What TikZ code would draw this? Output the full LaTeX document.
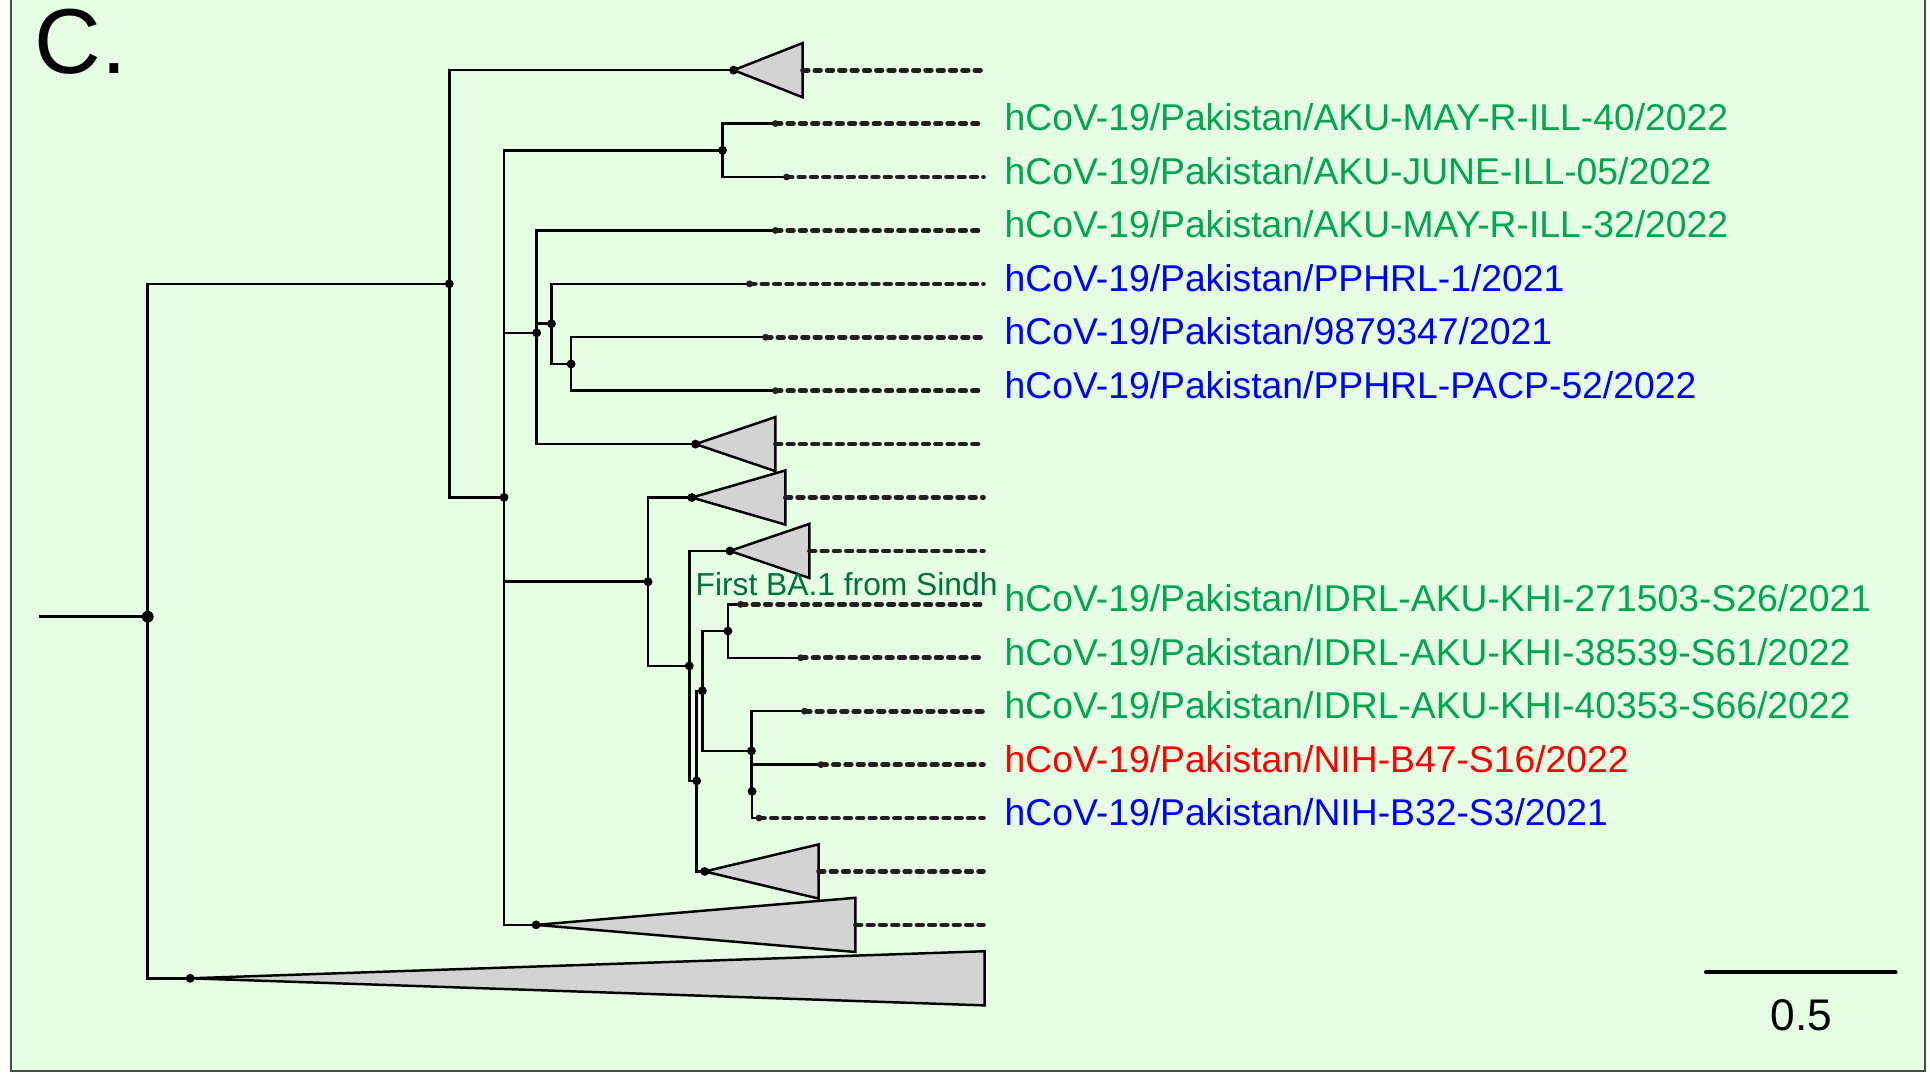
\documentclass[tikz,border=0pt]{standalone}
\usepackage{fontspec}
\setmainfont{Liberation Sans}
\definecolor{bggreen}{RGB}{229,254,228}
\definecolor{framegray}{RGB}{70,80,70}
\definecolor{cladegray}{RGB}{211,211,211}
\definecolor{tipgray}{RGB}{35,31,32}
\definecolor{labgreen}{RGB}{0,166,81}
\definecolor{labblue}{RGB}{0,0,255}
\definecolor{labred}{RGB}{255,0,0}
\definecolor{notegreen}{RGB}{0,112,60}
\tikzset{
	branch/.style={line width=2pt},
	tipline/.style={line width=3.8pt, dash pattern=on 4.6pt off 5.4pt, line cap=round, tipgray},
	clade/.style={draw=black, fill=cladegray, line width=2pt},
	taxon/.style={anchor=base west, inner sep=0pt, yshift=-6pt, font=\fontsize{30.3}{36}\selectfont},
}
\begin{document}
\begin{tikzpicture}[x=1pt,y=-1pt]
	\useasboundingbox (0,0) rectangle (1568,873);
	\fill[white] (0,0) rectangle (1568,873);
	\fill[bggreen] (9,-5) rectangle (1564,870);
	\draw[framegray, line width=1.6pt] (9,-5) -- (9,870) -- (1564,870) -- (1564,-5);
	\node[anchor=base west, inner sep=0pt, font=\fontsize{75}{80}\selectfont] (panel) at (28,60) {C.};
	% internal nodes
	\coordinate (stub) at (32,501);
	\coordinate (root) at (120,501);
	\coordinate (nA) at (365,230.6);
	\coordinate (nB) at (409.5,404.1);
	\coordinate (nC) at (587,122.1);
	\coordinate (nD) at (436,270.4);
	\coordinate (nF) at (448,263);
	\coordinate (nG) at (464,295.7);
	\coordinate (nE) at (526.5,472.6);
	\coordinate (nH) at (560,541);
	\coordinate (nI) at (566,634.4);
	\coordinate (nJ) at (570.6,561.2);
	\coordinate (nK) at (591.4,512.7);
	\coordinate (nL) at (610.5,610);
	\coordinate (nM) at (611,642.9);
	% collapsed clades: apex
	\coordinate (T0) at (596,57);
	\coordinate (T7) at (565,360.8);
	\coordinate (T8) at (562,404.2);
	\coordinate (T9) at (593,447.6);
	\coordinate (T15) at (572.5,708);
	\coordinate (T16) at (435.5,751.4);
	\coordinate (T17) at (154.5,794.8);
	% tips
	\coordinate (t0) at (652,57);
	\coordinate (t1) at (630,100.4);
	\coordinate (t2) at (639,143.8);
	\coordinate (t3) at (630,187.2);
	\coordinate (t4) at (609,230.6);
	\coordinate (t5) at (622,274);
	\coordinate (t6) at (630,317.4);
	\coordinate (t7) at (630,360.8);
	\coordinate (t8) at (638,404.2);
	\coordinate (t9) at (657.6,447.6);
	\coordinate (t10) at (601.7,491);
	\coordinate (t11) at (650.5,534.4);
	\coordinate (t12) at (653.6,577.8);
	\coordinate (t13) at (667,621.2);
	\coordinate (t14) at (616.6,664.6);
	\coordinate (t15) at (665,708);
	\coordinate (t16) at (695,751.4);
	\coordinate (t17) at (800,794.8);
	\coordinate (tipend) at (799,0);
	\coordinate (labx) at (816,0);
	% branches
	\draw[branch] (stub) -- (root);
	\foreach \p/\c in {root/nA, root/T17, nA/T0, nA/nB, nB/nC, nB/nD, nB/nE, nB/T16,
		nC/t1, nC/t2, nD/t3, nD/nF, nD/T7, nF/t4, nF/nG, nG/t5, nG/t6,
		nE/T8, nE/nH, nH/T9, nH/nI, nI/nJ, nI/T15, nJ/nK, nJ/nL,
		nK/t10, nK/t11, nL/t12, nL/nM, nM/t13, nM/t14}
		\draw[branch] (\p) |- (\c);
	\foreach \a/\t in {T0/t0, T7/t7, T8/t8, T9/t9, T15/t15, T16/t16, T17/t17}
		\draw[clade] (\a) -- ([yshift=22pt]\t) -- ([yshift=-22pt]\t) -- cycle;
	% dotted tip lines
	\foreach \t in {t0,t1,t2,t3,t4,t5,t6,t7,t8,t9,t10,t11,t12,t13,t14,t15,t16}
		\draw[tipline] (\t) -- (\t -| tipend);
	\foreach \t in {t1,t2,t3,t4,t5,t6,t10,t11,t12,t13,t14}
		\fill[tipgray] (\t) circle (2.8pt);
	\foreach \n in {nA,nB,nC,nD,nF,nG,nE,nH,nI,nJ,nK,nL,nM,T0,T7,T8,T9,T15,T16,T17}
		\fill (\n) circle (3.6pt);
	\fill (root) circle (4.8pt);
	% labels
	\node[taxon, labgreen] (l1) at (t1 -| labx) {hCoV-19/Pakistan/AKU-MAY-R-ILL-40/2022};
	\node[taxon, labgreen] (l2) at (t2 -| labx) {hCoV-19/Pakistan/AKU-JUNE-ILL-05/2022};
	\node[taxon, labgreen] (l3) at (t3 -| labx) {hCoV-19/Pakistan/AKU-MAY-R-ILL-32/2022};
	\node[taxon, labblue] (l4) at (t4 -| labx) {hCoV-19/Pakistan/PPHRL-1/2021};
	\node[taxon, labblue] (l5) at (t5 -| labx) {hCoV-19/Pakistan/9879347/2021};
	\node[taxon, labblue] (l6) at (t6 -| labx) {hCoV-19/Pakistan/PPHRL-PACP-52/2022};
	\node[taxon, labgreen] (l10) at (t10 -| labx) {hCoV-19/Pakistan/IDRL-AKU-KHI-271503-S26/2021};
	\node[taxon, labgreen] (l11) at (t11 -| labx) {hCoV-19/Pakistan/IDRL-AKU-KHI-38539-S61/2022};
	\node[taxon, labgreen] (l12) at (t12 -| labx) {hCoV-19/Pakistan/IDRL-AKU-KHI-40353-S66/2022};
	\node[taxon, labred] (l13) at (t13 -| labx) {hCoV-19/Pakistan/NIH-B47-S16/2022};
	\node[taxon, labblue] (l14) at (t14 -| labx) {hCoV-19/Pakistan/NIH-B32-S3/2021};
	\node[anchor=base west, inner sep=0pt, notegreen, font=\fontsize{25.8}{30}\selectfont] (note) at (565,484) {First BA.1 from Sindh};
	% scale bar
	\coordinate (sbl) at (1386,790);
	\coordinate (sbr) at (1540,790);
	\draw[line width=3.3pt, line cap=round] (sbl) -- (sbr);
	\node[anchor=base, inner sep=0pt, font=\fontsize{36}{40}\selectfont] (sblab) at (1463.5,837) {0.5};
\end{tikzpicture}
\end{document}
